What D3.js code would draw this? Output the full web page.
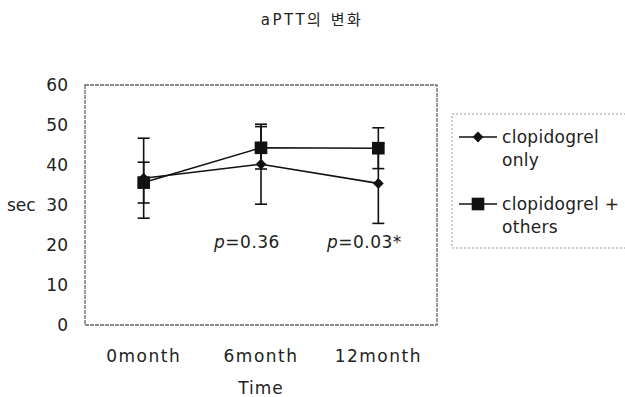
<!DOCTYPE html>
<html>
<head>
<meta charset="utf-8">
<script src="https://d3js.org/d3.v7.min.js"></script>
<style>
  body { margin: 0; background: #fff; }
  text { font-family: "DejaVu Sans", "Noto Sans CJK KR", sans-serif; fill: #222; }
</style>
</head>
<body>
<div id="chart"></div>
<script>
// data
var months = ["0month", "6month", "12month"];
var yTicks = [0, 10, 20, 30, 40, 50, 60];
var onlyMean = [36.7, 40.2, 35.4];
var onlySd = [10, 10, 10];
var othersMean = [35.6, 44.3, 44.2];
var othersSd = [5.1, 5.3, 5.1];
var pLabels = ["", "0.36", "0.03*"];

var width = 625, height = 397;
var margin = {top: 85, right: 188, bottom: 72, left: 85};
var font = "'DejaVu Sans', 'Noto Sans CJK KR', sans-serif";

var svg = d3.select("#chart").append("svg")
    .attr("width", width)
    .attr("height", height);

var x = d3.scaleBand().domain(months).range([margin.left, width - margin.right]);
var y = d3.scaleLinear().domain([0, 60]).range([height - margin.bottom, margin.top]);

// title
svg.append("text")
    .attr("x", 312).attr("y", 25)
    .attr("text-anchor", "middle")
    .style("font-size", "15px")
    .style("letter-spacing", "2.5px")
    .text("aPTT의 변화");

// plot box
svg.append("rect")
    .attr("x", x.range()[0]).attr("y", y(60))
    .attr("width", x.range()[1] - x.range()[0])
    .attr("height", y(0) - y(60))
    .attr("fill", "none")
    .attr("stroke", "#666")
    .attr("stroke-width", 1.3)
    .attr("stroke-dasharray", "4,1");

// y axis labels
var yAxis = d3.axisLeft(y).tickValues(yTicks).tickSize(0).tickPadding(17);
svg.append("g")
    .attr("transform", "translate(" + margin.left + ",0)")
    .call(yAxis)
    .call(function(g) { g.select(".domain").remove(); })
    .selectAll("text")
    .style("font-size", "17px")
    .style("font-family", font)
    .attr("fill", "#222");

svg.append("text")
    .attr("x", 7).attr("y", y(30) + 6)
    .style("font-size", "17px")
    .text("sec");

// x axis labels
var xAxis = d3.axisBottom(x).tickSize(0).tickPadding(25);
svg.append("g")
    .attr("transform", "translate(0," + y(0) + ")")
    .call(xAxis)
    .call(function(g) { g.select(".domain").remove(); })
    .selectAll("text")
    .style("font-size", "17px")
    .style("letter-spacing", "1.5px")
    .style("font-family", font)
    .attr("fill", "#222");

svg.append("text")
    .attr("x", x("6month") + x.bandwidth() / 2).attr("y", 394)
    .attr("text-anchor", "middle")
    .style("font-size", "17px")
    .style("letter-spacing", "1px")
    .text("Time");

var cx = function(i) { return x(months[i]) + x.bandwidth() / 2; };

function drawSeries(mean, sd, marker) {
  var g = svg.append("g");
  var line = d3.line()
      .x(function(d, i) { return cx(i); })
      .y(function(d) { return y(d); });
  g.append("path")
      .datum(mean)
      .attr("d", line)
      .attr("fill", "none")
      .attr("stroke", "#111")
      .attr("stroke-width", 1.6);

  mean.forEach(function(m, i) {
    var lo = y(m - sd[i]), hi = y(m + sd[i]), xx = cx(i);
    g.append("line").attr("x1", xx).attr("x2", xx).attr("y1", lo).attr("y2", hi)
        .attr("stroke", "#111").attr("stroke-width", 1.6);
    [lo, hi].forEach(function(yy) {
      g.append("line").attr("x1", xx - 6).attr("x2", xx + 6).attr("y1", yy).attr("y2", yy)
          .attr("stroke", "#111").attr("stroke-width", 1.6);
    });
  });

  g.selectAll(".mk")
      .data(mean)
      .enter()
      .append("path")
      .attr("transform", function(d, i) { return "translate(" + cx(i) + "," + y(d) + ")"; })
      .attr("d", marker)
      .attr("fill", "#111");
}

var diamond = d3.symbol().type(d3.symbolDiamond2).size(75)();
var square = d3.symbol().type(d3.symbolSquare).size(160)();

drawSeries(onlyMean, onlySd, diamond);
drawSeries(othersMean, othersSd, square);

// p-values
pLabels.forEach(function(p, i) {
  if (!p) return;
  var t = svg.append("text")
      .attr("x", cx(i) - 14).attr("y", y(19.5) + 1)
      .attr("text-anchor", "middle")
      .style("font-size", "17px")
      .style("letter-spacing", "0.5px");
  t.append("tspan").style("font-style", "italic").text("p");
  t.append("tspan").text("=" + p);
});

// legend
svg.append("rect")
    .attr("x", 452).attr("y", 114)
    .attr("width", 180).attr("height", 134)
    .attr("fill", "none")
    .attr("stroke", "#999")
    .attr("stroke-dasharray", "2,2");

var legend = [
  {lines: ["clopidogrel", "only"], marker: diamond, y: 137},
  {lines: ["clopidogrel +", "others"], marker: square, y: 204}
];
legend.forEach(function(d) {
  svg.append("line").attr("x1", 459).attr("x2", 497).attr("y1", d.y).attr("y2", d.y)
      .attr("stroke", "#111").attr("stroke-width", 1.6);
  svg.append("path").attr("d", d.marker)
      .attr("transform", "translate(478," + d.y + ")")
      .attr("fill", "#111");
  d.lines.forEach(function(s, k) {
    svg.append("text")
        .attr("x", 502).attr("y", d.y + 6 + k * 23)
        .style("font-size", "17px")
        .style("letter-spacing", "0.3px")
        .text(s);
  });
});
</script>
</body>
</html>
